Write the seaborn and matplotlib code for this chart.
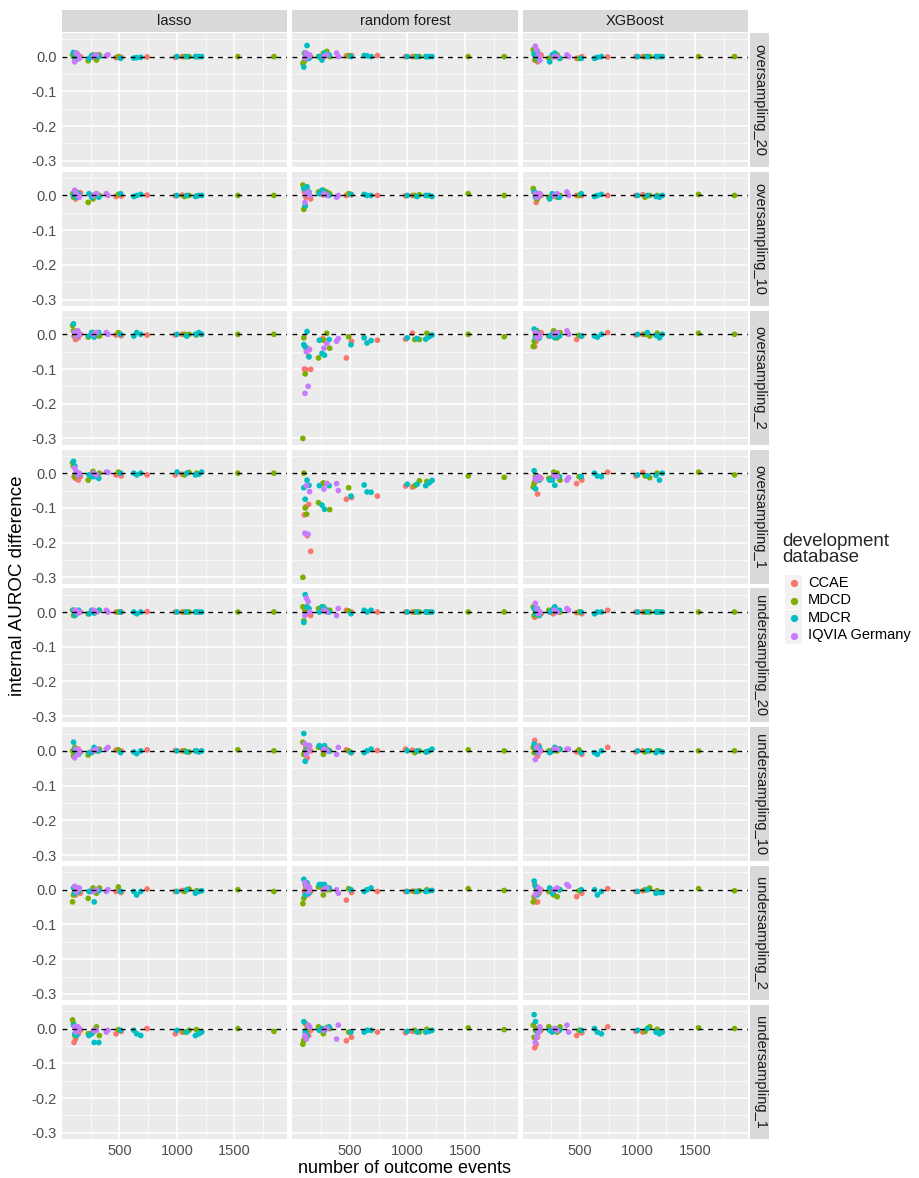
import matplotlib
matplotlib.use("Agg")
import matplotlib.pyplot as plt
from matplotlib.patches import Rectangle
from matplotlib.lines import Line2D
import pandas as pd
import seaborn as sns

methods = ['oversampling_20', 'oversampling_10', 'oversampling_2', 'oversampling_1',
           'undersampling_20', 'undersampling_10', 'undersampling_2', 'undersampling_1']
models = ['lasso', 'random forest', 'XGBoost']
databases = ['CCAE', 'MDCD', 'MDCR', 'IQVIA Germany']
colors = ['#F8766D', '#7CAE00', '#00BFC4', '#C77CFF']

# number of outcome events per outcome, per development database
ccae_events = [105, 118, 130, 142, 160, 265, 470, 515, 740, 985, 1045]
mdcd_events = [92, 100, 112, 125, 228, 270, 300, 325, 490, 1065, 1105, 1170, 1530, 1843]
mdcr_events = [100, 112, 128, 145, 235, 258, 280, 320, 510, 625, 650, 685, 1000, 1085, 1160, 1190, 1215]
iqvia_events = [110, 122, 138, 150, 275, 300, 385, 400]

# AUROC difference, one row per panel (method x model, row-major)
ccae_diff = [
    [0.005, -0.01, 0.008, -0.005, 0.0, -0.002, -0.003, -0.002, -0.001, -0.002, 0.0],
    [0.01, -0.005, 0.0, 0.005, 0.0, 0.0, 0.002, 0.003, 0.003, 0.0, 0.0],
    [-0.01, 0.005, -0.015, 0.0, 0.005, 0.0, -0.005, 0.0, -0.001, 0.0, 0.0],
    [0.005, -0.01, 0.0, -0.005, 0.008, 0.0, -0.003, -0.002, 0.001, -0.001, 0.001],
    [0.01, -0.005, 0.015, 0.0, -0.01, 0.002, 0.0, 0.002, 0.0, -0.001, 0.0],
    [0.01, -0.02, -0.01, 0.005, 0.0, -0.002, 0.0, 0.0, 0.0, 0.0, 0.002],
    [-0.005, -0.015, 0.01, -0.01, 0.0, -0.002, -0.002, -0.004, -0.002, -0.002, 0.0],
    [-0.1, -0.102, -0.04, -0.063, -0.101, -0.012, -0.068, -0.02, -0.017, -0.014, 0.003],
    [-0.035, -0.02, 0.0, -0.01, 0.005, -0.005, -0.015, -0.005, 0.005, -0.002, 0.0],
    [-0.01, -0.015, -0.005, -0.02, -0.01, 0.0, -0.005, -0.008, -0.005, -0.005, -0.003],
    [-0.12, -0.097, -0.18, -0.09, -0.225, -0.03, -0.075, -0.07, -0.066, -0.037, -0.04],
    [-0.025, -0.022, -0.06, -0.01, -0.015, -0.01, -0.03, -0.02, 0.003, -0.008, 0.002],
    [0.0, -0.005, 0.003, -0.002, 0.0, 0.0, 0.0, 0.0, 0.001, 0.0, 0.0],
    [0.01, -0.005, 0.0, 0.005, -0.01, 0.005, 0.005, 0.0, 0.0, 0.0, 0.0],
    [-0.015, 0.005, -0.01, 0.0, -0.005, -0.005, -0.002, -0.005, 0.005, 0.0, 0.0],
    [-0.005, 0.0, -0.01, 0.005, -0.003, 0.0, 0.002, 0.0, 0.003, 0.001, 0.0],
    [-0.01, 0.01, -0.02, 0.015, 0.0, 0.002, 0.003, -0.005, 0.001, 0.005, 0.002],
    [0.03, 0.01, -0.015, 0.015, 0.0, 0.0, -0.003, -0.01, 0.01, -0.003, 0.0],
    [-0.01, -0.015, 0.005, -0.005, -0.01, -0.002, -0.005, -0.008, 0.002, -0.005, -0.002],
    [-0.005, 0.005, -0.015, 0.01, -0.005, 0.0, -0.03, -0.008, -0.005, -0.005, -0.004],
    [0.015, -0.035, -0.035, -0.01, 0.0, -0.005, -0.02, -0.01, 0.003, -0.005, -0.003],
    [-0.04, -0.03, 0.0, -0.015, -0.005, -0.01, -0.015, -0.008, 0.0, -0.015, -0.01],
    [-0.03, -0.01, 0.005, -0.02, -0.005, -0.005, -0.035, -0.025, -0.01, -0.012, -0.008],
    [-0.055, -0.045, -0.025, -0.01, -0.005, -0.005, -0.02, -0.012, 0.005, -0.008, -0.01],
]
mdcd_diff = [
    [0.005, 0.0, -0.005, 0.01, -0.012, 0.005, -0.01, 0.005, 0.0, 0.0, 0.0, 0.0, 0.0, 0.0],
    [-0.02, -0.015, -0.01, 0.005, 0.0, 0.01, 0.015, 0.0, 0.003, 0.0, 0.0, 0.0, 0.0, 0.0],
    [0.02, 0.005, -0.01, 0.01, -0.005, 0.0, 0.005, -0.005, -0.005, 0.0, 0.0, 0.0, 0.0, 0.0],
    [0.005, -0.005, 0.0, 0.01, -0.02, -0.01, 0.005, 0.0, 0.003, -0.003, 0.0, -0.002, 0.0, 0.0],
    [0.03, -0.04, -0.03, 0.02, 0.01, 0.015, 0.01, 0.005, 0.005, 0.0, 0.002, 0.0, 0.005, 0.0],
    [0.02, 0.01, 0.0, -0.01, -0.005, 0.0, -0.005, 0.0, 0.0, -0.005, 0.0, 0.0, 0.003, 0.0],
    [0.025, 0.01, -0.005, 0.0, -0.008, 0.005, 0.0, -0.005, 0.005, 0.0, 0.0, -0.002, 0.0, 0.0],
    [-0.30, -0.01, -0.114, -0.045, -0.068, -0.017, 0.003, -0.04, -0.007, -0.015, -0.015, 0.003, 0.0, -0.007],
    [-0.035, -0.02, 0.0, 0.01, -0.005, 0.01, -0.01, 0.005, -0.003, 0.0, -0.005, 0.003, 0.003, 0.0],
    [0.03, 0.02, -0.01, 0.0, -0.02, 0.005, -0.005, 0.0, 0.003, -0.005, 0.002, 0.0, 0.0, 0.0],
    [-0.30, 0.0, -0.1, -0.118, -0.085, -0.028, -0.03, -0.105, -0.042, -0.036, -0.022, -0.024, -0.008, -0.012],
    [-0.04, -0.03, -0.01, -0.02, -0.015, 0.003, 0.0, -0.02, -0.01, -0.008, -0.013, 0.0, 0.003, -0.005],
    [0.005, -0.01, 0.0, -0.005, -0.005, 0.003, 0.0, 0.005, 0.0, 0.0, 0.0, 0.0, 0.0, 0.0],
    [0.015, -0.025, 0.0, 0.01, 0.01, 0.015, 0.005, 0.005, 0.003, 0.0, 0.0, 0.0, 0.0, 0.0],
    [0.015, -0.01, 0.0, 0.005, 0.005, 0.01, 0.0, 0.0, 0.0, 0.0, 0.0, 0.0, 0.0, 0.0],
    [0.0, -0.015, 0.01, -0.005, -0.012, 0.0, 0.0, 0.005, 0.003, 0.0, -0.003, 0.0, 0.003, 0.0],
    [0.025, -0.01, 0.0, 0.015, 0.01, -0.01, 0.005, 0.0, 0.0, -0.005, 0.0, -0.003, 0.003, 0.0],
    [0.01, -0.005, 0.0, 0.005, 0.0, 0.005, 0.0, 0.005, 0.003, -0.003, 0.0, 0.0, 0.0, 0.0],
    [-0.035, -0.015, 0.0, 0.005, -0.025, 0.005, -0.01, 0.005, 0.008, -0.005, 0.002, -0.003, 0.0, -0.005],
    [-0.04, -0.025, 0.015, 0.005, 0.008, -0.015, 0.0, 0.0, 0.003, -0.005, -0.003, 0.0, 0.003, -0.002],
    [-0.035, -0.02, 0.01, 0.0, -0.005, -0.015, -0.02, 0.0, -0.003, 0.0, 0.005, -0.003, 0.003, -0.003],
    [0.025, 0.015, -0.02, 0.0, -0.015, -0.01, 0.005, -0.02, -0.003, -0.01, -0.005, -0.003, 0.0, -0.008],
    [-0.045, -0.035, 0.015, -0.005, 0.005, -0.015, 0.003, 0.0, -0.01, -0.005, -0.01, -0.002, 0.002, -0.003],
    [0.01, -0.025, -0.005, 0.0, 0.005, -0.005, -0.01, 0.005, -0.005, -0.008, 0.005, -0.002, 0.002, 0.0],
]
mdcr_diff = [
    [0.012, 0.0, 0.005, -0.005, -0.005, 0.003, 0.0, 0.0, -0.005, -0.004, -0.003, -0.002, 0.0, 0.0, 0.0, 0.0, 0.0],
    [-0.03, 0.01, 0.032, -0.005, 0.0, -0.01, 0.01, 0.005, 0.0, 0.003, 0.002, 0.0, 0.0, 0.0, 0.0, 0.0, 0.0],
    [0.01, 0.0, 0.015, -0.01, -0.015, 0.005, 0.01, -0.005, -0.005, -0.005, -0.002, 0.0, 0.0, 0.0, 0.0, 0.0, 0.0],
    [0.0, 0.01, -0.005, 0.005, 0.005, -0.005, 0.0, -0.005, 0.005, -0.003, 0.0, 0.003, 0.0, 0.0, -0.003, 0.0, 0.0],
    [0.02, -0.03, 0.025, 0.01, 0.005, 0.015, 0.01, 0.0, 0.003, 0.003, 0.0, 0.0, 0.0, -0.003, 0.0, 0.0, -0.003],
    [0.01, -0.005, 0.005, 0.0, -0.01, 0.005, 0.0, -0.005, 0.005, -0.003, 0.0, 0.003, 0.0, 0.0, -0.003, -0.005, 0.0],
    [0.03, 0.005, -0.005, 0.0, -0.005, 0.005, -0.008, 0.005, 0.0, -0.005, 0.005, 0.0, 0.0, -0.005, 0.0, 0.005, 0.0],
    [-0.03, -0.036, 0.008, -0.065, -0.017, -0.055, -0.06, -0.015, -0.03, -0.01, -0.025, -0.018, -0.01, -0.012, -0.014, -0.007, -0.002],
    [0.015, -0.01, 0.005, -0.01, -0.005, 0.0, -0.01, -0.005, -0.005, -0.005, -0.008, 0.0, 0.0, 0.005, -0.003, -0.01, 0.0],
    [0.034, 0.02, 0.0, -0.005, -0.005, -0.01, -0.01, -0.015, 0.0, 0.0, -0.005, 0.0, 0.003, 0.0, -0.005, -0.003, 0.003],
    [-0.042, -0.075, -0.02, -0.035, -0.036, -0.092, -0.104, -0.036, -0.066, -0.034, -0.054, -0.055, -0.032, -0.032, -0.036, -0.028, -0.021],
    [0.007, -0.045, -0.01, -0.02, -0.02, -0.02, -0.035, -0.01, -0.01, 0.0, -0.008, -0.01, -0.005, -0.007, -0.006, -0.02, 0.0],
    [0.005, -0.01, 0.0, 0.005, -0.005, 0.005, -0.003, 0.005, 0.0, 0.0, -0.005, 0.0, 0.0, 0.0, 0.0, 0.0, 0.0],
    [-0.03, 0.05, 0.015, 0.01, 0.0, 0.015, 0.01, 0.0, -0.005, 0.005, 0.0, 0.005, 0.0, 0.0, 0.0, 0.0, 0.0],
    [0.01, -0.005, 0.01, -0.01, 0.0, 0.005, 0.015, 0.005, 0.0, -0.005, 0.0, 0.0, 0.0, 0.0, 0.0, 0.0, 0.0],
    [0.025, 0.005, -0.005, -0.01, -0.005, -0.005, 0.01, 0.0, -0.005, -0.003, -0.008, 0.0, 0.0, -0.003, 0.0, -0.003, 0.0],
    [0.05, -0.03, 0.0, 0.015, 0.015, 0.01, 0.015, 0.0, -0.005, -0.005, 0.0, 0.005, 0.0, 0.0, -0.003, 0.0, 0.005],
    [0.02, 0.01, -0.005, 0.01, -0.005, 0.0, 0.01, 0.005, -0.005, -0.005, -0.01, 0.0, 0.0, 0.0, -0.005, 0.0, -0.003],
    [0.005, -0.01, 0.0, -0.005, -0.005, -0.005, -0.035, -0.003, -0.005, -0.005, -0.015, -0.005, -0.005, 0.0, -0.01, -0.005, -0.003],
    [0.03, -0.015, 0.02, -0.01, 0.015, 0.015, 0.015, 0.005, 0.0, -0.005, 0.0, 0.005, -0.005, -0.005, -0.005, -0.003, -0.002],
    [0.025, 0.01, -0.015, 0.0, 0.005, -0.01, 0.0, 0.0, 0.0, 0.0, -0.015, -0.005, -0.005, 0.0, -0.01, -0.008, -0.008],
    [0.01, -0.015, -0.02, 0.0, -0.02, -0.015, -0.04, -0.04, -0.005, -0.005, -0.015, -0.02, -0.005, -0.01, -0.02, -0.015, -0.01],
    [0.02, -0.01, -0.02, 0.005, -0.005, 0.0, -0.005, 0.005, -0.01, -0.01, -0.005, -0.005, -0.008, -0.01, -0.01, -0.008, -0.005],
    [0.04, 0.02, -0.01, -0.005, -0.005, -0.01, 0.0, -0.005, -0.005, 0.0, -0.01, -0.015, -0.005, 0.0, -0.01, -0.015, -0.01],
]
iqvia_diff = [
    [-0.015, 0.01, 0.005, -0.005, 0.0, 0.005, 0.002, 0.005],
    [-0.005, 0.01, 0.0, 0.005, 0.0, 0.005, 0.01, 0.0],
    [0.03, 0.02, 0.005, -0.01, 0.0, 0.0, 0.005, 0.0],
    [0.015, 0.005, 0.0, -0.005, 0.0, 0.005, 0.005, 0.0],
    [-0.02, 0.005, 0.01, 0.0, 0.005, 0.0, -0.005, 0.0],
    [0.005, -0.005, 0.0, 0.005, 0.0, 0.005, 0.01, 0.0],
    [0.005, -0.005, 0.01, 0.0, 0.0, 0.005, 0.005, 0.0],
    [-0.17, -0.05, -0.15, -0.044, -0.04, -0.026, -0.02, -0.012],
    [0.005, -0.01, 0.0, -0.005, 0.0, 0.005, 0.01, 0.0],
    [0.015, 0.005, -0.005, 0.0, 0.0, -0.005, 0.003, 0.002],
    [-0.173, -0.036, -0.176, -0.053, -0.046, -0.03, -0.03, -0.05],
    [-0.015, -0.02, -0.01, -0.015, -0.005, -0.01, -0.02, -0.013],
    [0.003, 0.005, -0.003, 0.0, 0.005, 0.0, 0.005, 0.0],
    [-0.01, 0.04, 0.03, 0.0, 0.005, 0.0, -0.01, 0.01],
    [0.025, 0.01, -0.005, 0.0, 0.005, 0.0, 0.01, 0.005],
    [-0.02, 0.005, -0.01, 0.0, 0.0, 0.005, 0.005, 0.01],
    [0.02, -0.01, 0.0, 0.015, 0.005, 0.0, -0.01, 0.01],
    [-0.025, 0.01, -0.005, 0.0, 0.005, 0.005, 0.005, 0.005],
    [0.01, -0.005, 0.0, 0.005, -0.005, 0.0, -0.005, 0.0],
    [0.02, 0.01, -0.005, 0.005, 0.0, 0.005, 0.0, -0.01],
    [-0.015, -0.01, 0.005, 0.0, 0.0, 0.005, 0.015, 0.01],
    [0.005, -0.01, 0.005, 0.0, -0.005, -0.005, -0.01, -0.005],
    [-0.02, -0.03, 0.01, 0.005, -0.005, 0.0, -0.03, 0.01],
    [-0.04, -0.025, -0.01, 0.005, 0.0, -0.005, 0.01, -0.01],
]

# long table for seaborn
rows = []
for db, events, diffs in [('CCAE', ccae_events, ccae_diff),
                          ('MDCD', mdcd_events, mdcd_diff),
                          ('MDCR', mdcr_events, mdcr_diff),
                          ('IQVIA Germany', iqvia_events, iqvia_diff)]:
    for k, vals in enumerate(diffs):
        for e, v in zip(events, vals):
            rows.append((methods[k // 3], models[k % 3], db, e, v))
df = pd.DataFrame(rows, columns=['method', 'model', 'db', 'events', 'diff'])

sns.set_theme(style='darkgrid', rc={'axes.facecolor': '#EBEBEB', 'grid.color': 'white'})
plt.rcParams['font.family'] = ['Liberation Sans', 'DejaVu Sans']

W, H = 919, 1178
g = sns.relplot(data=df, x='events', y='diff', row='method', col='model', hue='db',
                row_order=methods, col_order=models, hue_order=databases, palette=colors,
                s=17, linewidth=0, alpha=1, legend=False, height=1.34, aspect=1.68,
                facet_kws=dict(despine=False, sharex=True, sharey=True))
fig = g.figure
fig.set_size_inches(W / 100, H / 100)
fig.subplots_adjust(left=62 / W, right=748 / W, top=1 - 33 / H, bottom=1 - 1139 / H,
                    wspace=0.022, hspace=0.036)
g.set_titles('')
g.set_axis_labels('', '')

nr, nc = g.axes.shape
for i in range(nr):
    for j in range(nc):
        ax = g.axes[i, j]
        ax.set_xlim(0, 1960)
        ax.set_ylim(-0.318, 0.068)
        ax.set_xticks([500, 1000, 1500])
        ax.set_xticks([250, 750, 1250, 1750], minor=True)
        ax.set_yticks([-0.3, -0.2, -0.1, 0.0])
        ax.set_yticks([-0.25, -0.15, -0.05, 0.05], minor=True)
        ax.grid(which='major', color='white', lw=1.1)
        ax.grid(which='minor', color='white', lw=0.5)
        ax.axhline(0, color='black', lw=1.0, ls=(0, (3.5, 3.5)), zorder=1.5)
        for sp in ax.spines.values():
            sp.set_visible(False)
        ax.tick_params(which='minor', length=0)
        ax.tick_params(which='major', colors='#333333', length=2.5, width=0.8,
                       labelsize=10.5, labelcolor='#4D4D4D', pad=1.5)
        if j == 0:
            ax.set_yticklabels(['-0.3', '-0.2', '-0.1', '0.0'])
        else:
            ax.tick_params(axis='y', length=0)
        if i == nr - 1:
            ax.set_xticklabels(['500', '1000', '1500'])
            ax.tick_params(axis='x', pad=1)
        else:
            ax.tick_params(axis='x', length=0)
        ax.set_xlabel('')
        ax.set_ylabel('')
        # strips
        if i == 0:
            ax.add_patch(Rectangle((0, 1.01), 1, 22 / 134, transform=ax.transAxes,
                                   facecolor='#D9D9D9', edgecolor='none', clip_on=False))
            ax.text(0.5, 1.01 + 11 / 134, models[j], transform=ax.transAxes,
                    ha='center', va='center', fontsize=10.5, color='#1A1A1A')
        if j == nc - 1:
            ax.add_patch(Rectangle((1.01, 0), 19 / 226, 1, transform=ax.transAxes,
                                   facecolor='#D9D9D9', edgecolor='none', clip_on=False))
            ax.text(1.01 + 9.5 / 226, 0.5, methods[i], transform=ax.transAxes,
                    ha='center', va='center', rotation=270, fontsize=10.5, color='#1A1A1A')

fig.text(405 / W, 1 - 1177 / H, 'number of outcome events', ha='center', va='bottom',
         fontsize=13, color='black')
fig.text(18 / W, 1 - 586 / H, 'internal AUROC difference', ha='center', va='center',
         rotation=90, fontsize=13.5, color='black')

# legend drawn by hand in ggplot2 fashion
fig.text(782 / W, 1 - 541 / H, 'development', ha='left', va='center', fontsize=13.5)
fig.text(782 / W, 1 - 558 / H, 'database', ha='left', va='center', fontsize=13.5)
for k, (db, c) in enumerate(zip(databases, colors)):
    yc = 583 + k * 17.5
    fig.add_artist(Rectangle((785 / W, 1 - (yc + 8.5) / H), 17 / W, 17 / H,
                             transform=fig.transFigure, facecolor='#F2F2F2', edgecolor='none'))
    fig.add_artist(Line2D([793.5 / W], [1 - yc / H], transform=fig.transFigure,
                          marker='o', markersize=4.2, color=c, linestyle='none'))
    fig.text(808 / W, 1 - yc / H, db, ha='left', va='center', fontsize=10.5, color='black')

fig.savefig('out.png', dpi=100)
